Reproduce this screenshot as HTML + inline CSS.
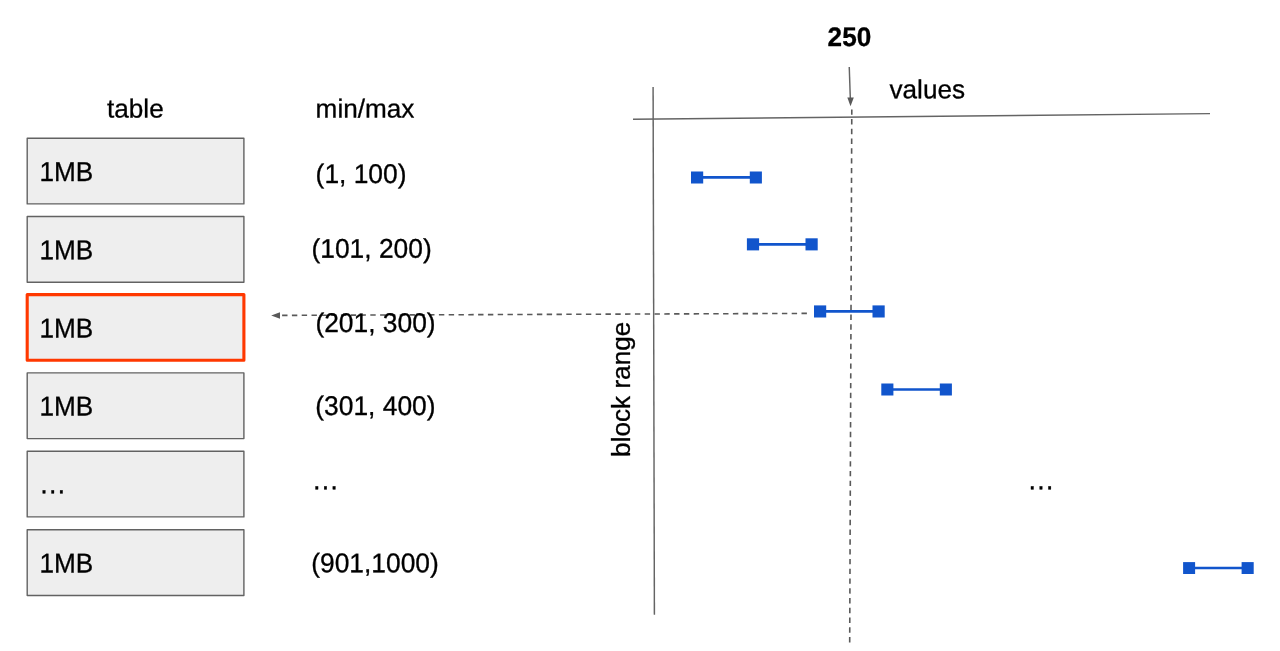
<!DOCTYPE html>
<html lang="en">
<head>
<meta charset="utf-8">
<title>Block range min/max diagram</title>
<style>
  html, body { margin: 0; padding: 0; background: #ffffff; }
  body { width: 1280px; height: 651px; overflow: hidden; }
  svg { display: block; }
  text { font-family: "Liberation Sans", Arial, Helvetica, sans-serif; font-size: 26.4px; fill: #000000; stroke: #000000; stroke-width: 0.3px; stroke-linejoin: round; }
  .b { font-weight: bold; }
  .box { fill: #eeeeee; stroke: #626262; stroke-width: 1.4; stroke-linejoin: round; }
  .hot { fill: #eeeeee; stroke: #ff3800; stroke-width: 3.1; stroke-linejoin: round; }
  .ln { stroke: #646464; stroke-width: 1.45; fill: none; }
  .dash { stroke: #595959; stroke-width: 1.6; fill: none; stroke-dasharray: 5.4 4.4; }
  .bl { stroke: #1155cc; stroke-width: 2.67; fill: none; }
  .sq { fill: #1155cc; }
  .ah { fill: #595959; }
</style>
</head>
<body>
<svg width="1280" height="651" viewBox="0 0 1280 651">
  <rect x="0" y="0" width="1280" height="651" fill="#ffffff"/>

  <!-- table column -->
  <text style="font-size:26.15px" transform="translate(107.00,117.50) rotate(0.03)">table</text>
  <rect class="box" x="27.2" y="138.2" width="216.7" height="65.7"/>
  <rect class="box" x="27.2" y="216.5" width="216.7" height="65.7"/>
  <rect class="hot" x="27.2" y="294.6" width="216.7" height="65.7"/>
  <rect class="box" x="27.2" y="372.9" width="216.7" height="65.7"/>
  <rect class="box" x="27.2" y="451.2" width="216.7" height="65.7"/>
  <rect class="box" x="27.2" y="529.8" width="216.7" height="65.7"/>
  <text style="font-size:26.15px" transform="translate(39.50,181.00) rotate(0.03) scale(1,1.04)">1MB</text>
  <text style="font-size:26.15px" transform="translate(39.50,259.30) rotate(0.03) scale(1,1.04)">1MB</text>
  <text style="font-size:26.15px" transform="translate(39.50,337.40) rotate(0.03) scale(1,1.04)">1MB</text>
  <text style="font-size:26.15px" transform="translate(39.50,415.50) rotate(0.03) scale(1,1.04)">1MB</text>
  <text style="font-size:27.4px" transform="translate(39.00,493.30) rotate(0.03)">…</text>
  <text style="font-size:26.15px" transform="translate(39.50,572.60) rotate(0.03) scale(1,1.04)">1MB</text>

  <!-- dashed pointer lines (drawn behind the labels) -->
  <line class="dash" x1="806.9" y1="313.4" x2="280" y2="315.4"/>
  <polygon class="ah" points="271.2,315.5 280,312.2 280,318.8"/>
  <line class="dash" style="stroke-dasharray:5.4 4.375" x1="849.7" y1="642.5" x2="851.8" y2="109.5"/>

  <!-- min/max column -->
  <text style="font-size:26.15px" transform="translate(315.60,117.50) rotate(0.03)">min/max</text>
  <text style="font-size:26.38px" transform="translate(315.60,183.00) rotate(0.03) scale(1,1.025)">(1, 100)</text>
  <text style="font-size:26.38px" transform="translate(311.50,257.70) rotate(0.03) scale(1,1.025)">(101, 200)</text>
  <text style="font-size:26.38px" transform="translate(315.40,332.00) rotate(0.03) scale(1,1.025)">(201, 300)</text>
  <text style="font-size:26.38px" transform="translate(315.30,415.00) rotate(0.03) scale(1,1.025)">(301, 400)</text>
  <text style="font-size:27.4px" transform="translate(311.80,489.35) rotate(0.03)">…</text>
  <text style="font-size:26.38px" transform="translate(311.20,572.30) rotate(0.03) scale(1,1.025)">(901,1000)</text>

  <!-- axes -->
  <line class="ln" x1="653.1" y1="86.9" x2="654.4" y2="614.8"/>
  <line class="ln" x1="633" y1="119.3" x2="1210" y2="113.6"/>
  <text style="font-size:26.15px" transform="translate(889.50,98.20) rotate(0.03)">values</text>
  <text style="font-size:26.15px" transform="translate(630.10,456.90) rotate(-90)">block range</text>

  <!-- 250 marker -->
  <text class="b" style="font-size:26.15px" transform="translate(827.60,46.00) rotate(0.03) scale(1,1.025)">250</text>
  <line class="ln" x1="849.25" y1="67.1" x2="850.3" y2="98"/>
  <polygon class="ah" points="850.55,106.2 847.3,97.5 853.8,97.5"/>

  <!-- range bars -->
  <line class="bl" x1="697.10" y1="177.4" x2="755.85" y2="177.4"/>
  <rect class="sq" x="691" y="171.5" width="12.20" height="12.00"/>
  <rect class="sq" x="749.8" y="171.5" width="12.10" height="12.00"/>
  <line class="bl" x1="753.00" y1="244.3" x2="811.60" y2="244.3"/>
  <rect class="sq" x="746.9" y="238.3" width="12.20" height="12.10"/>
  <rect class="sq" x="805.5" y="238.3" width="12.20" height="12.10"/>
  <line class="bl" x1="820.10" y1="311.3" x2="878.60" y2="311.3"/>
  <rect class="sq" x="814" y="305.4" width="12.20" height="12.10"/>
  <rect class="sq" x="872.5" y="305.4" width="12.20" height="12.10"/>
  <line class="bl" x1="887.35" y1="389.5" x2="945.85" y2="389.5"/>
  <rect class="sq" x="881.3" y="383.5" width="12.10" height="12.00"/>
  <rect class="sq" x="939.8" y="383.5" width="12.10" height="12.00"/>
  <line class="bl" x1="1189.10" y1="568" x2="1247.65" y2="568"/>
  <rect class="sq" x="1183.1" y="562.1" width="12.00" height="11.90"/>
  <rect class="sq" x="1241.6" y="562.1" width="12.10" height="11.90"/>
  <text style="font-size:27.4px" transform="translate(1027.30,489.35) rotate(0.03)">…</text>
</svg>
</body>
</html>
